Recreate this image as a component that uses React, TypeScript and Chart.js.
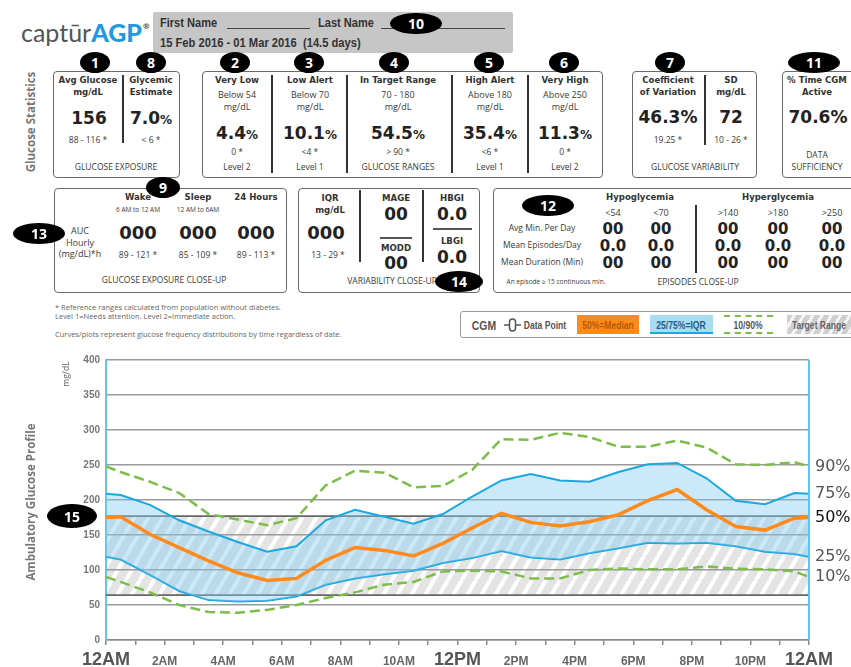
import React, { useEffect, useRef } from 'react';
import { Chart, registerables } from 'chart.js';
Chart.register(...registerables);

// ---- AGP data (mg/dL) at hour positions ----
const hours = [0, 0.5, 1.5, 2.5, 3.5, 4.5, 5.5, 6.5, 7.5, 8.5, 9.5, 10.5, 11.5, 12.5, 13.5, 14.5, 15.5, 16.5, 17.5, 18.5, 19.5, 20.5, 21.5, 22.5, 23.5, 24];
const p90 = [248, 240, 226, 210, 180, 172, 164, 174, 221, 242, 239, 218, 220, 243, 287, 286, 296, 290, 276, 276, 285, 275, 251, 250, 254, 248];
const p75 = [209, 207, 193, 171, 155, 140, 126, 134, 171, 186, 176, 166, 180, 205, 228, 237, 228, 226, 240, 251, 253, 231, 199, 194, 210, 209];
const p50 = [175, 176, 151, 132, 113, 96, 85, 88, 114, 132, 128, 120, 138, 160, 181, 168, 163, 169, 179, 199, 215, 186, 162, 157, 174, 175];
const p25 = [119, 115, 93, 70, 57, 55, 56, 62, 79, 88, 94, 99, 110, 117, 127, 118, 115, 124, 131, 139, 138, 139, 134, 126, 123, 119];
const p10 = [90, 83, 68, 50, 40, 39, 43, 50, 60, 68, 79, 83, 98, 99, 98, 88, 88, 100, 102, 101, 101, 105, 102, 101, 98, 90];
const targetBand = [64, 177];
const xLabelHours = [0, 2, 4, 6, 8, 10, 12, 14, 16, 18, 20, 22, 24];
const xLabels = ['12AM', '2AM', '4AM', '6AM', '8AM', '10AM', '12PM', '2PM', '4PM', '6PM', '8PM', '10PM', '12AM'];

// ---- statistics text ----
const rangeTitles = ['Very Low', 'Low Alert', 'In Target Range', 'High Alert', 'Very High'];
const rangeSub = ['Below 54', 'Below 70', '70 - 180', 'Above 180', 'Above 250'];
const rangeValues = ['4.4', '10.1', '54.5', '35.4', '11.3'];
const rangeRefs = ['0 *', '<4 *', '> 90 *', '<6 *', '0 *'];
const rangeFoot = ['Level 2', 'Level 1', 'GLUCOSE RANGES', 'Level 1', 'Level 2'];
const rangeX = [237, 310, 398, 490, 565];
const aucCols = ['Wake', 'Sleep', '24 Hours'];
const aucSub = ['6 AM to 12 AM', '12 AM to 6AM', ''];
const aucRefs = ['89 - 121 *', '85 - 109 *', '89 - 113 *'];
const aucX = [138, 198, 256];
const epiHeads = ['<54', '<70', '>140', '>180', '>250'];
const epiX = [613, 661, 728, 778, 832];
const epiRows = ['Avg Min. Per Day', 'Mean Episodes/Day', 'Mean Duration (Min)'];
const epiVals = ['00', '0.0', '00'];

const BLUE = '#1ba8e0';
const ORANGE = '#ff8a1c';
const GREEN = '#7dbd4b';
const CF = "'DejaVu Sans Condensed','DejaVu Sans',sans-serif";
const DV = "'DejaVu Sans',sans-serif";
const OS = "'Open Sans',sans-serif";
const LS = "'Liberation Sans',sans-serif";

const pts = (arr: number[]) => arr.map((v, i) => ({ x: hours[i], y: v }));

function makeHatch(ctx: CanvasRenderingContext2D) {
  const w = 14, h = 24;
  const c = document.createElement('canvas');
  c.width = w; c.height = h;
  const g = c.getContext('2d')!;
  g.fillStyle = '#e4e4e4';
  g.fillRect(0, 0, w, h);
  g.strokeStyle = '#ffffff';
  g.lineWidth = 4;
  g.beginPath();
  for (const x0 of [-w, 0, w]) { g.moveTo(x0, h); g.lineTo(x0 + w, 0); }
  g.stroke();
  return ctx.createPattern(c, 'repeat')!;
}

const agpPlugin = {
  id: 'agpDecor',
  beforeDraw(chart: any) {
    const { ctx, chartArea: a, scales } = chart;
    const t = scales.y.getPixelForValue(targetBand[1]);
    const b = scales.y.getPixelForValue(targetBand[0]);
    ctx.save();
    ctx.fillStyle = makeHatch(ctx);
    ctx.fillRect(a.left, t, a.right - a.left, b - t);
    ctx.restore();
  },
  beforeDatasetsDraw(chart: any) {
    const { ctx, chartArea: a, scales } = chart;
    ctx.save();
    ctx.strokeStyle = '#666';
    ctx.lineWidth = 1.8;
    for (const v of targetBand) {
      const y = scales.y.getPixelForValue(v);
      ctx.beginPath(); ctx.moveTo(a.left, y); ctx.lineTo(a.right, y); ctx.stroke();
    }
    ctx.restore();
  },
  afterDraw(chart: any) {
    const { ctx, chartArea: a, scales } = chart;
    ctx.save();
    ctx.strokeStyle = '#5cc6ee';
    ctx.lineWidth = 2;
    ctx.beginPath(); ctx.moveTo(a.right, a.top); ctx.lineTo(a.right, a.bottom); ctx.stroke();
    ctx.textAlign = 'center';
    ctx.textBaseline = 'alphabetic';
    xLabelHours.forEach((h, i) => {
      const big = h % 12 === 0;
      ctx.font = big ? `bold 18px ${LS}` : `bold 12px ${LS}`;
      ctx.fillStyle = big ? '#555' : '#666';
      ctx.fillText(xLabels[i], scales.x.getPixelForValue(h), a.bottom + 25);
    });
    ctx.textAlign = 'left';
    ctx.textBaseline = 'middle';
    ctx.font = `16px ${DV}`;
    chart.data.datasets.forEach((ds: any) => {
      const last = ds.data[ds.data.length - 1];
      ctx.fillStyle = ds.label === '50%' ? '#111' : '#555';
      ctx.fillText(ds.label, a.right + 6, scales.y.getPixelForValue(last.y));
    });
    ctx.restore();
  },
};

const T = ({ x, y, s = 9, b = false, c = '#3a3a3a', f = OS, children, al = 'center', sx = 1 }: any) => (
  <div style={{
    position: 'absolute', left: x, top: y,
    transform: (al === 'center' ? 'translate(-50%,-50%)' : al === 'left' ? 'translate(0,-50%)' : 'translate(-100%,-50%)') + ` scaleX(${sx})`,
    transformOrigin: al === 'left' ? 'left center' : 'center center',
    fontSize: s, fontWeight: b ? 700 : 400, color: c, fontFamily: f, whiteSpace: 'pre', lineHeight: 1,
  }}>{children}</div>
);
const Box = ({ l, t, w, h }: any) => (
  <div style={{ position: 'absolute', left: l, top: t, width: w, height: h, border: '1.5px solid #6a6a6a', borderRadius: 4, boxSizing: 'border-box' }} />
);
const VL = ({ x, y1, y2, c = '#333', w = 2 }: any) => (
  <div style={{ position: 'absolute', left: x - w / 2, top: y1, width: w, height: y2 - y1, background: c }} />
);
const HL = ({ x1, x2, y, c = '#555', w = 1.5 }: any) => (
  <div style={{ position: 'absolute', left: x1, top: y - w / 2, width: x2 - x1, height: w, background: c }} />
);
const Badge = ({ x, y, w = 30, h = 21, n }: any) => (
  <div style={{
    position: 'absolute', left: x - w / 2, top: y - h / 2, width: w, height: h, borderRadius: '50%', background: '#000',
    color: '#fff', fontFamily: OS, fontWeight: 700, fontSize: 14, display: 'flex', alignItems: 'center', justifyContent: 'center',
  }}>{n}</div>
);
const Rot = ({ x, y, s, children, b = true, c = '#777', f = OS }: any) => (
  <div style={{
    position: 'absolute', left: x, top: y, transform: 'translate(-50%,-50%) rotate(-90deg)', fontSize: s,
    fontWeight: b ? 700 : 400, color: c, fontFamily: f, whiteSpace: 'nowrap', lineHeight: 1,
  }}>{children}</div>
);
const Pct = ({ v, ps = 12 }: any) => (<>{v}<span style={{ fontSize: ps, fontWeight: 600 }}>%</span></>);

export default function App() {
  const ref = useRef<HTMLCanvasElement>(null);
  useEffect(() => {
    const chart = new Chart(ref.current!, {
      type: 'line',
      data: {
        datasets: [
          { label: '50%', data: pts(p50), borderColor: ORANGE, borderWidth: 3.5, pointRadius: 0, fill: false, tension: 0 },
          { label: '90%', data: pts(p90), borderColor: GREEN, borderWidth: 2.5, borderDash: [10, 5], pointRadius: 0, fill: false, tension: 0 },
          { label: '75%', data: pts(p75), borderColor: BLUE, borderWidth: 2, pointRadius: 0, fill: '+1', backgroundColor: 'rgba(130,202,238,0.42)', tension: 0 },
          { label: '25%', data: pts(p25), borderColor: BLUE, borderWidth: 2, pointRadius: 0, fill: false, tension: 0 },
          { label: '10%', data: pts(p10), borderColor: GREEN, borderWidth: 2.5, borderDash: [10, 5], pointRadius: 0, fill: false, tension: 0 },
        ] as any,
      },
      options: {
        responsive: false,
        animation: false,
        devicePixelRatio: 1,
        layout: { padding: { left: 0, right: 42, top: 20, bottom: 0 } },
        plugins: { legend: { display: false }, tooltip: { enabled: false } },
        scales: {
          x: {
            type: 'linear', min: 0, max: 24,
            ticks: { stepSize: 1, display: false, autoSkip: false },
            grid: { drawOnChartArea: false, drawTicks: true, tickLength: 5, color: '#888', lineWidth: 1.5 },
            border: { color: '#888', width: 1.5 },
            afterFit: (s: any) => { s.height = 27; },
          },
          y: {
            min: 0, max: 400,
            ticks: { stepSize: 50, color: '#777', padding: 6, font: { family: 'Liberation Sans', size: 10, weight: 'bold' } },
            grid: { color: '#9a9a9a', lineWidth: 1.5, drawTicks: false },
            border: { color: '#5cc6ee', width: 2 },
            afterFit: (s: any) => { s.width = 106; },
          },
        },
      } as any,
      plugins: [agpPlugin],
    });
    return () => chart.destroy();
  }, []);

  return (
    <div style={{ position: 'absolute', left: 0, top: 0, width: 851, height: 667, overflow: 'hidden', background: '#fff' }}>
      <canvas ref={ref} width={851} height={327} style={{ position: 'absolute', left: 0, top: 340 }} />

      {/* logo */}
      <div style={{ position: 'absolute', left: 21, top: 20, fontFamily: "'Lato',sans-serif", fontSize: 25, lineHeight: 1, whiteSpace: 'nowrap' }}>
        <span style={{ color: '#555', fontWeight: 400 }}>captūr</span>
        <span style={{ color: '#1f9ade', fontWeight: 900 }}>AGP</span>
        <span style={{ color: '#444', fontSize: 8, verticalAlign: 'top', fontWeight: 700, position: 'relative', top: 2, left: 1 }}>®</span>
      </div>

      {/* name box */}
      <div style={{ position: 'absolute', left: 153, top: 12, width: 360, height: 41, background: '#c6c6c6', borderRadius: 2 }} />
      <T x={160} y={22} s={13} b f={LS} c="#333" al="left" sx={0.85}>First Name</T>
      <HL x1={227} x2={310} y={28} c="#444" w={1} />
      <T x={318} y={22} s={13} b f={LS} c="#333" al="left" sx={0.85}>Last Name</T>
      <HL x1={381} x2={505} y={28} c="#444" w={1} />
      <T x={160} y={42} s={13} b f={LS} c="#333" al="left" sx={0.86}>15 Feb 2016 - 01 Mar 2016  (14.5 days)</T>

      <Rot x={31} y={122} s={11.5}>Glucose Statistics</Rot>

      {/* box 1 */}
      <Box l={53} t={71} w={127} h={107} />
      <VL x={123} y1={75} y2={143} />
      <T x={88} y={80} s={9.5} b f={CF} c="#333">Avg Glucose</T>
      <T x={88} y={92} s={9.5} b f={CF} c="#333">mg/dL</T>
      <T x={89} y={118} s={17} b f={DV} c="#222">156</T>
      <T x={88} y={140} s={8.5}>88 - 116 *</T>
      <T x={151} y={80} s={9.5} b f={CF} c="#333">Glycemic</T>
      <T x={151} y={92} s={9.5} b f={CF} c="#333">Estimate</T>
      <T x={151} y={118} s={17} b f={DV} c="#222"><Pct v="7.0" /></T>
      <T x={151} y={140} s={8.5}>&lt; 6 *</T>
      <T x={116} y={167} s={8.5}>GLUCOSE EXPOSURE</T>

      {/* box ranges */}
      <Box l={202} t={71} w={401} h={107} />
      {[272, 347, 452, 528].map((x) => <VL key={x} x={x} y1={75} y2={173} />)}
      {rangeTitles.map((t, i) => (
        <React.Fragment key={t}>
          <T x={rangeX[i]} y={80} s={9.5} b f={CF} c="#333">{t}</T>
          <T x={rangeX[i]} y={94} s={9}>{rangeSub[i]}</T>
          <T x={rangeX[i]} y={106} s={9}>mg/dL</T>
          <T x={rangeX[i]} y={133} s={17} b f={DV} c="#222"><Pct v={rangeValues[i]} /></T>
          <T x={rangeX[i]} y={152} s={8.5}>{rangeRefs[i]}</T>
          <T x={rangeX[i]} y={167} s={8.5}>{rangeFoot[i]}</T>
        </React.Fragment>
      ))}

      {/* variability */}
      <Box l={632} t={71} w={125} h={107} />
      <VL x={705} y1={75} y2={145} />
      <T x={668} y={80} s={9.5} b f={CF} c="#333">Coefficient</T>
      <T x={668} y={92} s={9.5} b f={CF} c="#333">of Variation</T>
      <T x={668} y={117} s={17} b f={DV} c="#222">46.3%</T>
      <T x={668} y={140} s={8.5}>19.25 *</T>
      <T x={731} y={80} s={9.5} b f={CF} c="#333">SD</T>
      <T x={731} y={92} s={9.5} b f={CF} c="#333">mg/dL</T>
      <T x={731} y={117} s={17} b f={DV} c="#222">72</T>
      <T x={731} y={140} s={8.5}>10 - 26 *</T>
      <T x={695} y={167} s={8.5}>GLUCOSE VARIABILITY</T>

      {/* sufficiency */}
      <Box l={782} t={71} w={80} h={107} />
      <T x={817} y={80} s={9.5} b f={CF} c="#333">% Time CGM</T>
      <T x={817} y={92} s={9.5} b f={CF} c="#333">Active</T>
      <T x={818} y={117} s={17} b f={DV} c="#222">70.6%</T>
      <T x={817} y={155} s={8.5}>DATA</T>
      <T x={817} y={167} s={8.5}>SUFFICIENCY</T>

      {/* glucose exposure close-up */}
      <Box l={54} t={188} w={233} h={105} />
      {aucCols.map((c, i) => (
        <React.Fragment key={c}>
          <T x={aucX[i]} y={197} s={9.5} b f={CF} c="#333">{c}</T>
          {aucSub[i] ? <T x={aucX[i]} y={210} s={6.5}>{aucSub[i]}</T> : null}
          <T x={aucX[i]} y={233} s={18} b f={DV} c="#222">000</T>
          <T x={aucX[i]} y={255} s={8.5}>{aucRefs[i]}</T>
        </React.Fragment>
      ))}
      <T x={80} y={230} s={9}>AUC</T>
      <T x={80} y={242} s={9}>Hourly</T>
      <T x={80} y={253} s={9}>(mg/dL)*h</T>
      <T x={164} y={280} s={8.5}>GLUCOSE EXPOSURE CLOSE-UP</T>

      {/* variability close-up */}
      <Box l={298} t={188} w={182} h={105} />
      <VL x={360} y1={190} y2={262} />
      <VL x={423} y1={190} y2={262} />
      <T x={330} y={198} s={9.5} b f={CF} c="#333">IQR</T>
      <T x={330} y={210} s={9.5} b f={CF} c="#333">mg/dL</T>
      <T x={326} y={233} s={18} b f={DV} c="#222">000</T>
      <T x={328} y={255} s={8.5}>13 - 29 *</T>
      <T x={396} y={198} s={9.5} b f={CF} c="#333">MAGE</T>
      <T x={396} y={214} s={17} b f={DV} c="#222">00</T>
      <HL x1={380} x2={412} y={238} />
      <T x={396} y={248} s={9.5} b f={CF} c="#333">MODD</T>
      <T x={396} y={263} s={17} b f={DV} c="#222">00</T>
      <T x={452} y={198} s={9.5} b f={CF} c="#333">HBGI</T>
      <T x={452} y={214} s={17} b f={DV} c="#222">0.0</T>
      <HL x1={433} x2={472} y={229} />
      <T x={452} y={241} s={9.5} b f={CF} c="#333">LBGI</T>
      <T x={452} y={257} s={17} b f={DV} c="#222">0.0</T>
      <T x={392} y={281} s={8.5}>VARIABILITY CLOSE-UP</T>

      {/* episodes close-up */}
      <Box l={493} t={188} w={370} h={105} />
      <T x={640} y={197} s={9.5} b f={CF} c="#333">Hypoglycemia</T>
      <T x={778} y={197} s={9.5} b f={CF} c="#333">Hyperglycemia</T>
      {epiHeads.map((h, i) => <T key={h} x={epiX[i]} y={212} s={9}>{h}</T>)}
      {epiRows.map((r, j) => (
        <React.Fragment key={r}>
          <T x={542} y={228 + j * 17} s={8.5}>{r}</T>
          {epiX.map((x) => <T key={x} x={x} y={229 + j * 17} s={15} b f={DV} c="#222">{epiVals[j]}</T>)}
        </React.Fragment>
      ))}
      <VL x={696} y1={205} y2={273} />
      <T x={556} y={282} s={6.5}>An episode ≥ 15 continuous min.</T>
      <T x={698} y={282} s={8.5}>EPISODES CLOSE-UP</T>

      {/* footnotes */}
      <T x={55} y={308} s={7.5} c="#666" al="left">* Reference ranges calculated from population without diabetes.</T>
      <T x={55} y={317} s={7.5} c="#666" al="left">Level 1=Needs attention. Level 2=Immediate action.</T>
      <T x={55} y={335} s={7.5} c="#666" al="left">Curves/plots represent glucose frequency distributions by time regardless of date.</T>

      {/* legend */}
      <div style={{ position: 'absolute', left: 460, top: 311, width: 420, height: 27, border: '1.5px solid #999', borderRadius: 3, boxSizing: 'border-box' }} />
      <T x={484} y={325} s={13} b f={LS} c="#555" sx={0.8}>CGM</T>
      <svg style={{ position: 'absolute', left: 504, top: 317 }} width={17} height={16}>
        <line x1={0} y1={8} x2={17} y2={8} stroke="#555" strokeWidth={1.5} />
        <rect x={5.5} y={2} width={6} height={12} rx={3} fill="#fff" stroke="#555" strokeWidth={1.5} />
      </svg>
      <T x={545} y={325} s={11} b f={LS} c="#555" sx={0.78}>Data Point</T>
      <div style={{ position: 'absolute', left: 577, top: 315, width: 62, height: 19, background: ORANGE }} />
      <T x={608} y={325} s={11} b f={LS} c="#b55a00" sx={0.78}>50%=Median</T>
      <div style={{ position: 'absolute', left: 650, top: 315, width: 63, height: 19, background: '#a9dcf3', borderBottom: `2px solid ${BLUE}`, boxSizing: 'border-box' }} />
      <T x={681} y={325} s={11} b f={LS} c="#2b5b85" sx={0.78}>25/75%=IQR</T>
      <div style={{ position: 'absolute', left: 724, top: 315, width: 49, height: 19, borderTop: `2px dashed ${GREEN}`, borderBottom: `2px dashed ${GREEN}`, boxSizing: 'border-box' }} />
      <T x={748} y={325} s={11} b f={LS} c="#555" sx={0.78}>10/90%</T>
      <div style={{ position: 'absolute', left: 787, top: 315, width: 64, height: 19, background: 'repeating-linear-gradient(120deg,#cfcfcf 0px,#cfcfcf 5px,#f4f4f4 5px,#f4f4f4 8px)' }} />
      <T x={819} y={325} s={11} b f={LS} c="#666" sx={0.78}>Target Range</T>

      {/* chart side labels */}
      <Rot x={31} y={502} s={11.5}>Ambulatory Glucose Profile</Rot>
      <Rot x={66} y={374} s={8.5} b={false} c="#666">mg/dL</Rot>

      {/* badges */}
      <Badge x={95} y={62} n="1" />
      <Badge x={151} y={62} n="8" />
      <Badge x={235} y={62} n="2" />
      <Badge x={309} y={62} n="3" />
      <Badge x={394} y={62} n="4" />
      <Badge x={489} y={62} n="5" />
      <Badge x={564} y={62} n="6" />
      <Badge x={670} y={62} n="7" />
      <Badge x={814} y={62} w={52} n="11" />
      <Badge x={416} y={23} w={52} n="10" />
      <Badge x={163} y={187} w={34} n="9" />
      <Badge x={39} y={233} w={52} n="13" />
      <Badge x={459} y={281} w={48} n="14" />
      <Badge x={548} y={205} w={52} n="12" />
      <Badge x={72} y={516} w={50} h={24} n="15" />
    </div>
  );
}
